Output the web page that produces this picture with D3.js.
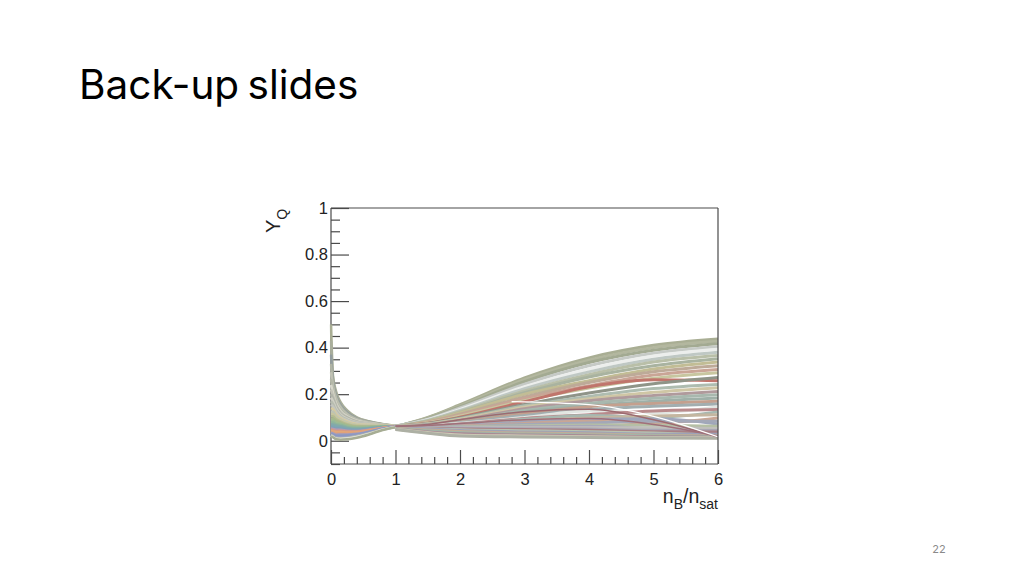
<!DOCTYPE html>
<html>
<head>
<meta charset="utf-8">
<title>Back-up slides</title>
<script src="https://cdn.jsdelivr.net/npm/d3@7"></script>
<style>
  body { margin: 0; background: #fff; }
  svg { display: block; }
</style>
</head>
<body>
<svg id="slide" width="1024" height="576"></svg>
<script>
var titleText = "Back-up slides";
var pageNumber = "22";

var xMajor = [0, 1, 2, 3, 4, 5, 6];
var xMinor = [0.2, 0.4, 0.6, 0.8, 1.2, 1.4, 1.6, 1.8, 2.2, 2.4, 2.6, 2.8, 3.2, 3.4, 3.6, 3.8, 4.2, 4.4, 4.6, 4.8, 5.2, 5.4, 5.6, 5.8];
var yMajor = [0, 0.2, 0.4, 0.6, 0.8, 1];
var yMinor = [-0.1, -0.05, 0.05, 0.1, 0.15, 0.25, 0.3, 0.35, 0.45, 0.5, 0.55, 0.65, 0.7, 0.75, 0.85, 0.9, 0.95];

var nLeft = [0, 0.03, 0.08, 0.15, 0.25, 0.4, 0.6, 0.8, 1];
var nRight = [1, 1.5, 2, 3, 4, 5, 6];
var nDip = [2.8, 4, 5, 6];

// bundel links, van hoog naar laag (hoog eerst tekenen)
var leftCurves = [
  [.500,.280,.210,.165,.130,.100,.083,.072,.064],
  [.430,.268,.202,.160,.126,.098,.082,.071,.064],
  [.370,.255,.194,.153,.121,.095,.080,.070,.064],
  [.330,.242,.185,.146,.116,.093,.079,.070,.064],
  [.295,.230,.176,.140,.112,.090,.077,.069,.064],
  [.265,.218,.168,.133,.108,.088,.076,.069,.064],
  [.240,.205,.160,.127,.105,.086,.075,.069,.063],
  [.220,.195,.154,.122,.102,.084,.074,.068,.063],
  [.200,.182,.146,.117,.099,.082,.073,.068,.063],
  [.185,.170,.138,.112,.095,.079,.072,.067,.063],
  [.170,.158,.130,.107,.091,.077,.071,.067,.063],
  [.155,.147,.122,.102,.087,.075,.070,.066,.063],
  [.140,.136,.114,.097,.083,.072,.068,.066,.062],
  [.125,.125,.106,.092,.079,.069,.066,.065,.062],
  [.115,.115,.099,.087,.075,.066,.064,.064,.062],
  [.105,.105,.092,.082,.071,.063,.062,.063,.062],
  [.095,.095,.085,.077,.067,.060,.060,.062,.062],
  [.086,.086,.078,.072,.063,.057,.058,.061,.061],
  [.078,.078,.071,.067,.059,.054,.056,.060,.061],
  [.071,.070,.065,.062,.055,.051,.054,.059,.061],
  [.064,.063,.059,.057,.051,.048,.052,.058,.061],
  [.058,.056,.053,.052,.047,.045,.050,.057,.061],
  [.052,.050,.047,.047,.043,.042,.048,.056,.061],
  [.047,.045,.041,.042,.039,.039,.046,.055,.061],
  [.042,.040,.036,.037,.035,.036,.044,.054,.060],
  [.038,.035,.031,.032,.031,.033,.042,.053,.060],
  [.034,.031,.026,.027,.027,.030,.040,.052,.060],
  [.030,.027,.022,.022,.023,.027,.038,.051,.060],
  [.028,.024,.018,.018,.019,.024,.036,.050,.060],
  [.026,.021,.014,.014,.015,.021,.034,.049,.059],
  [.024,.019,.011,.010,.012,.019,.032,.048,.059],
  [.022,.017,.008,.007,.009,.016,.030,.047,.059],
  [.020,.015,.006,.004,.006,.013,.028,.046,.058]
];
var leftColors = ["#a9ae94", "#a9ae9c", "#929c9e", "#b0b4a4", "#c0c2b4", "#b4b8a8", "#d8d8cc", "#c4c4b8",
                  "#b0b4a8", "#cfcfc4", "#b8bdb0", "#c4c6c0", "#d7cba0", "#bfc4b4", "#c8c6a0", "#b4bb92",
                  "#a8b88c", "#9dbb94", "#8fb59a", "#84aaa8", "#7fa8b0", "#7fa0b8", "#b79ab0", "#d99a80",
                  "#e3a878", "#dfa27a", "#a09cc0", "#8e9ac0", "#8b97c4", "#98a0c4", "#b9bca6", "#e8ebe6", "#a7ad94"];

// bundel rechts, van boven naar onder aan de rechterkant
var rightCurves = [
  [.060,.100,.155,.270,.356,.410,.437],
  [.060,.098,.150,.262,.346,.400,.427],
  [.062,.096,.146,.254,.336,.389,.417],
  [.063,.093,.141,.243,.322,.376,.404],
  [.059,.090,.135,.232,.308,.364,.393],
  [.062,.088,.130,.224,.296,.350,.380],
  [.061,.086,.126,.214,.284,.338,.366],
  [.062,.084,.122,.206,.274,.322,.352],
  [.060,.083,.120,.200,.258,.308,.338],
  [.061,.081,.114,.188,.250,.296,.322],
  [.060,.079,.110,.180,.236,.282,.306],
  [.062,.077,.106,.172,.226,.268,.292],
  [.061,.075,.101,.168,.232,.262,.258],
  [.063,.074,.098,.156,.205,.245,.272],
  [.061,.073,.095,.150,.190,.224,.242],
  [.062,.072,.092,.144,.180,.208,.228],
  [.063,.070,.088,.138,.172,.194,.212],
  [.061,.069,.085,.130,.160,.182,.198],
  [.061,.068,.083,.124,.150,.170,.184],
  [.063,.067,.080,.116,.146,.160,.170],
  [.061,.066,.078,.108,.134,.148,.158],
  [.063,.065,.075,.100,.128,.120,.146],
  [.064,.064,.072,.096,.112,.128,.134],
  [.064,.063,.070,.092,.108,.100,.124],
  [.064,.062,.068,.086,.098,.106,.112],
  [.060,.061,.066,.080,.092,.094,.072],
  [.064,.060,.063,.074,.084,.076,.098],
  [.060,.059,.061,.070,.076,.084,.084],
  [.064,.058,.059,.064,.068,.066,.062],
  [.058,.057,.057,.060,.062,.050,.030],
  [.064,.056,.055,.056,.056,.056,.052],
  [.057,.055,.053,.052,.050,.045,.044],
  [.060,.054,.050,.048,.045,.039,.037],
  [.058,.052,.047,.043,.039,.033,.024],
  [.056,.050,.044,.038,.034,.028,.028],
  [.054,.046,.040,.033,.029,.024,.020],
  [.052,.043,.035,.029,.025,.021,.017],
  [.050,.038,.030,.025,.021,.017,.015],
  [.049,.035,.025,.020,.017,.014,.013],
  [.048,.032,.020,.016,.014,.012,.011]
];
var rightColors = ["#a9ae94", "#b3b79f", "#a3aa92", "#c6cac6", "#eceeec", "#bfc8c4", "#b9bfa8", "#a9b3a0",
                   "#c2bd95", "#bdaa98", "#c9a596", "#c8c6a0", "#c0746c", "#8f9488", "#aebcb0", "#cfc6a5",
                   "#b09a9c", "#a8b8ae", "#9fb0a8", "#c4a08e", "#a2aeb0", "#e2e6e2", "#b98a8c", "#a7b8b0",
                   "#c4b6a0", "#9fa6bc", "#c9a694", "#a3a8b8", "#b5bfa5", "#a8a8b8", "#c0bfbc", "#a9a6b4",
                   "#a87f84", "#b9c3b0", "#9da2b8", "#c4ac94", "#a3b5a8", "#a98a96", "#cfcbb6", "#adb0a4"];

// dunne krommen die rechts duidelijk naar beneden duiken
var dipRed = [.062,.070,.090,.125,.135,.090,.016];
var dipRed2 = [.062,.066,.074,.090,.095,.070,.020];
var dipWhite = [.168,.155,.105,.017];

var svg = d3.select("#slide");

svg.append("text")
    .attr("x", 79).attr("y", 99)
    .attr("font-family", "Inter, 'Noto Sans', sans-serif")
    .attr("font-size", 40.5)
    .attr("fill", "#000")
    .attr("word-spacing", -3)
    .text(titleText);

svg.append("text")
    .attr("x", 939).attr("y", 553)
    .attr("text-anchor", "middle")
    .attr("font-family", "Inter, 'Noto Sans', sans-serif")
    .attr("font-size", 11)
    .attr("fill", "#8a8a8a")
    .text(pageNumber);

var x = d3.scaleLinear().domain([0, 6]).range([331, 718]);
var y = d3.scaleLinear().domain([-0.1, 1]).range([464, 208]);

var defs = svg.append("defs");
// links iets ruimer: de krommen liggen in het origineel over de as
defs.append("clipPath").attr("id", "plotClip").append("rect")
    .attr("x", x(0) - 1.5).attr("y", y(1))
    .attr("width", x(6) - x(0) + 1.5).attr("height", y(-0.1) - y(1));
// het origineel is een wazige screenshot
defs.append("filter").attr("id", "soft").append("feGaussianBlur").attr("stdDeviation", 0.4);

function styleTicks(g) {
    g.select(".domain").remove();
    g.selectAll("line").attr("stroke", "#4a4a4a").attr("stroke-width", 1.2);
    g.selectAll("text")
        .attr("font-family", "'Liberation Sans', Arial, sans-serif")
        .attr("font-size", 16.5)
        .attr("fill", "#222");
}

var axisX = d3.axisBottom(x).tickValues(xMajor).tickFormat(d3.format("d")).tickSize(-14).tickPadding(9);
var axisXMinor = d3.axisBottom(x).tickValues(xMinor).tickFormat("").tickSize(-7);
var axisY = d3.axisLeft(y).tickValues(yMajor).tickFormat(d3.format("")).tickSize(-18).tickPadding(3);
var axisYMinor = d3.axisLeft(y).tickValues(yMinor).tickFormat("").tickSize(-9);

svg.append("g").attr("transform", "translate(0," + y(-0.1) + ")").call(axisX).call(styleTicks);
svg.append("g").attr("transform", "translate(0," + y(-0.1) + ")").call(axisXMinor).call(styleTicks);
svg.append("g").attr("transform", "translate(" + x(0) + ",0)").call(axisY).call(styleTicks);
svg.append("g").attr("transform", "translate(" + x(0) + ",0)").call(axisYMinor).call(styleTicks);

// frame eerst, daarna de krommen eroverheen
var frame = [[[0, 1], [0, -0.1]], [[0, -0.1], [6, -0.1]]];
var frameTop = [[[0, 1], [6, 1]], [[6, 1], [6, -0.1]]];
var frameLine = d3.line().x(function(d) { return x(d[0]); }).y(function(d) { return y(d[1]); });

svg.append("g").selectAll("path").data(frame).enter().append("path")
    .attr("d", frameLine).attr("fill", "none").attr("stroke", "#4a4a4a").attr("stroke-width", 1.2);

function curveLine(grid) {
    return d3.line()
        .x(function(d, i) { return x(grid[i]); })
        .y(function(d) { return y(d); })
        .curve(d3.curveMonotoneX);
}

var plot = svg.append("g")
    .attr("clip-path", "url(#plotClip)")
    .append("g")
    .attr("filter", "url(#soft)");

plot.selectAll("path.right")
    .data(rightCurves)
    .enter()
    .append("path")
    .attr("class", "right")
    .attr("d", curveLine(nRight))
    .attr("fill", "none")
    .attr("stroke", function(d, i) { return rightColors[i]; })
    .attr("stroke-width", 3);

plot.selectAll("path.left")
    .data(leftCurves)
    .enter()
    .append("path")
    .attr("class", "left")
    .attr("d", curveLine(nLeft))
    .attr("fill", "none")
    .attr("stroke", function(d, i) { return leftColors[i]; })
    .attr("stroke-width", 2.6);

plot.append("path").attr("d", curveLine(nRight)(dipRed))
    .attr("fill", "none").attr("stroke", "#9c6a70").attr("stroke-width", 1.5);
plot.append("path").attr("d", curveLine(nRight)(dipRed2))
    .attr("fill", "none").attr("stroke", "#a0707a").attr("stroke-width", 1.5);
plot.append("path").attr("d", curveLine(nDip)(dipWhite))
    .attr("fill", "none").attr("stroke", "#ffffff").attr("stroke-width", 1.3);

svg.append("g").selectAll("path").data(frameTop).enter().append("path")
    .attr("d", frameLine).attr("fill", "none").attr("stroke", "#4a4a4a").attr("stroke-width", 1.2);

// as-titels
var yLabel = svg.append("text")
    .attr("transform", "translate(280,233) rotate(-90)")
    .attr("font-family", "'Liberation Sans', Arial, sans-serif")
    .attr("font-size", 20)
    .attr("fill", "#222");
yLabel.append("tspan").text("Y");
yLabel.append("tspan").attr("dy", 7).attr("font-size", 14).text("Q");

var xLabel = svg.append("text")
    .attr("x", 718).attr("y", 503)
    .attr("text-anchor", "end")
    .attr("font-family", "'Liberation Sans', Arial, sans-serif")
    .attr("font-size", 19.5)
    .attr("fill", "#222");
xLabel.append("tspan").text("n");
xLabel.append("tspan").attr("dy", 6).attr("font-size", 14).text("B");
xLabel.append("tspan").attr("dy", -6).text("/n");
xLabel.append("tspan").attr("dy", 6).attr("font-size", 14).text("sat");
</script>
</body>
</html>
